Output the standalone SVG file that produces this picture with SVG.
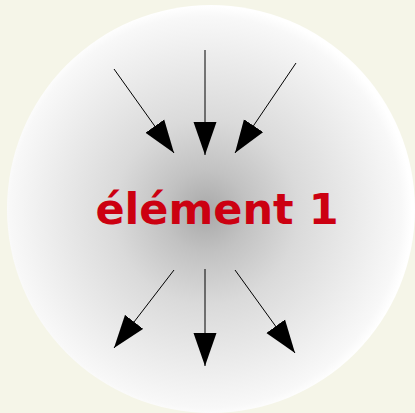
<svg xmlns="http://www.w3.org/2000/svg" width="415" height="413" viewBox="0 0 415 413">
<style>
.conn line { stroke: #000; stroke-width: 1; marker-end: url(#ah); }
.label { font-family: "DejaVu Sans", sans-serif; font-weight: bold; font-size: 43px; fill: #cc0011; }
</style>
<defs>
<radialGradient id="g" cx="206" cy="212" r="206" fx="206" fy="212" gradientUnits="userSpaceOnUse">
<stop offset="0" stop-color="#a8a8a8"/>
<stop offset="0.2" stop-color="#c2c2c2"/>
<stop offset="0.45" stop-color="#dadada"/>
<stop offset="0.75" stop-color="#ececec"/>
<stop offset="0.95" stop-color="#f8f8f8"/>
<stop offset="1" stop-color="#ffffff"/>
</radialGradient>
<marker id="ah" markerUnits="userSpaceOnUse" markerWidth="34" markerHeight="24" refX="33" refY="11.5" orient="auto" viewBox="0 0 34 23">
<path d="M0,0 L33,11.5 L0,23 Z" fill="#000"/>
</marker>
</defs>
<rect x="0" y="0" width="415" height="413" fill="#f5f5e8"/>
<g id="node1">
<circle cx="211" cy="209" r="204" fill="url(#g)"/>
<text class="label" x="217" y="224" text-anchor="middle">élément 1</text>
</g>
<g id="connectors" class="conn">
<line x1="114" y1="69" x2="174" y2="153"/>
<line x1="205" y1="50" x2="205" y2="155"/>
<line x1="296" y1="63" x2="235" y2="153"/>
<line x1="174" y1="270" x2="114" y2="348"/>
<line x1="205" y1="269" x2="205" y2="366"/>
<line x1="235" y1="270" x2="295" y2="353"/>
</g>
</svg>
